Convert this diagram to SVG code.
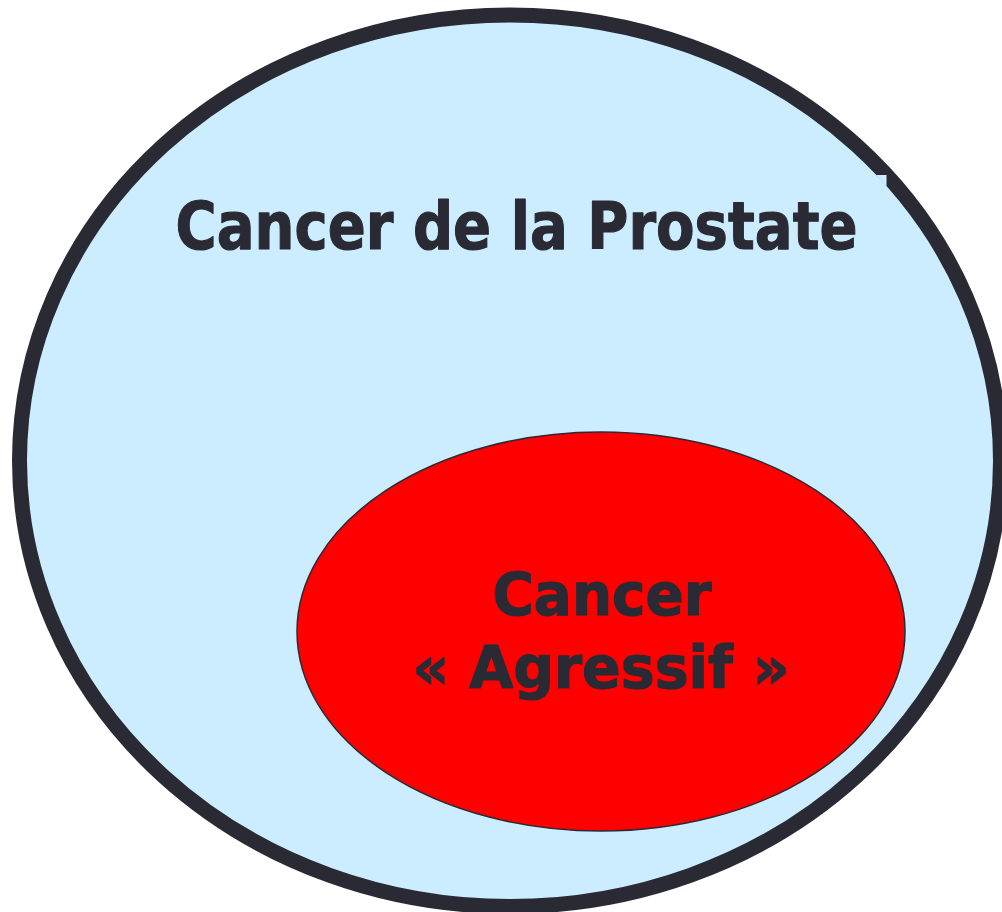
<svg xmlns="http://www.w3.org/2000/svg" width="1002" height="912" viewBox="0 0 1002 912">
<style>
.t{font-family:"DejaVu Sans","Liberation Sans",sans-serif;font-weight:bold;fill:#2a2a35;stroke:#2a2a35;stroke-width:1.2;stroke-linejoin:round}
</style>
<rect width="1002" height="912" fill="#ffffff"/>
<g id="prostate">
<ellipse cx="510" cy="460.75" rx="490.5" ry="445.75" fill="#ccecff" stroke="#2a2a35" stroke-width="15"/>
<polygon points="876,175 886.5,175 886.5,186.5" fill="#ccecff"/>
<text class="t" x="175.5" y="249" font-size="66" textLength="682" lengthAdjust="spacingAndGlyphs">Cancer de la Prostate</text>
</g>
<g id="agressif">
<ellipse cx="601" cy="631.5" rx="304" ry="199.5" fill="#ff0000" stroke="#2a2a35" stroke-width="1.5"/>
<text class="t" x="492.5" y="615" font-size="58" textLength="219" lengthAdjust="spacingAndGlyphs">Cancer</text>
<text class="t" x="412.5" y="688" font-size="58" textLength="377" lengthAdjust="spacingAndGlyphs">« Agressif »</text>
</g>
<g id="connectors"/>
</svg>
